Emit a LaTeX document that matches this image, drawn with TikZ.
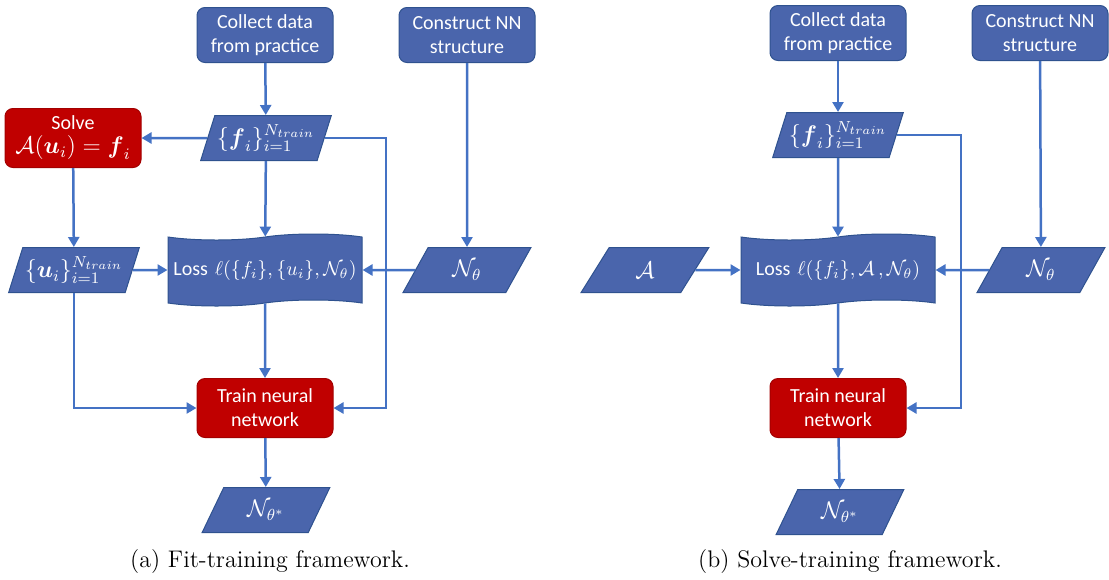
\documentclass[tikz,border=0pt]{standalone}
\usepackage{amsmath}
\usepackage{fontspec}
\newfontfamily\boxfont{Carlito}
\usetikzlibrary{arrows.meta,shapes.geometric,shapes.symbols}
\definecolor{boxblue}{HTML}{4A65AC}
\definecolor{boxedge}{HTML}{2F528F}
\definecolor{boxred}{HTML}{C00000}
\definecolor{linkblue}{HTML}{4472C4}

\begin{document}
\begin{tikzpicture}[x=0.5pt, y=-0.5pt, >={Triangle[length=5pt,width=5.5pt]},
  proc/.style={rectangle, rounded corners=4pt, draw=boxedge, fill=boxblue, text=white,
    font=\boxfont\fontsize{10}{12}\selectfont, align=center,
    minimum width=68pt, minimum height=27.5pt, inner sep=1pt, line width=0.5pt},
  solve/.style={proc, draw=boxred!85!black, fill=boxred, minimum height=29.5pt},
  io/.style={trapezium, trapezium left angle=66, trapezium right angle=114,
    trapezium stretches=true, draw=boxedge, fill=boxblue, text=white,
    font=\fontsize{11.5}{13}\selectfont,
    minimum width=64pt, minimum height=22.5pt, inner sep=1pt, line width=0.5pt},
  loss/.style={tape, tape bend top=in and out, tape bend bottom=in and out,
    tape bend height=3pt, draw=boxedge, fill=boxblue, text=white,
    font=\fontsize{10.2}{12}\selectfont,
    minimum width=97pt, minimum height=36pt, inner sep=1pt, line width=0.5pt},
  flow/.style={->, draw=linkblue, line width=1.25pt},
  caption/.style={font=\large}]

\useasboundingbox (0,0) rectangle (1109,579);

% (a) Fit-training
\node[proc] (a-collect) at (265,35) {Collect data\\from practice};
\node[proc] (a-construct) at (467,35) {Construct NN\\structure};
\node[io] (a-data) at (266,138) {$\{\boldsymbol{f}_i\}_{i=1}^{N_{train}}$};
\node[solve] (a-solve) at (73,138) {Solve\\\large$\mathcal{A}(\boldsymbol{u}_i)=\boldsymbol{f}_i$};
\node[io] (a-sol) at (74,270) {$\{\boldsymbol{u}_i\}_{i=1}^{N_{train}}$};
\node[loss] (a-loss) at (265,270) {{\boxfont\fontsize{10}{12}\selectfont Loss} $\ell(\{f_i\},\{u_i\},\mathcal{N}_\theta)$};
\node[io] (a-net) at (467,270) {$\mathcal{N}_\theta$};
\node[solve] (a-train) at (265,408) {Train neural\\network};
\node[io] (a-out) at (266,510) {$\mathcal{N}_{\theta^*}$};
\coordinate (a-turn) at (386,138);

\draw[flow] (a-collect) -- (a-data);
\draw[flow] (a-data) -- (a-solve);
\draw[flow] (a-data) -- (a-loss);
\draw[flow] (a-data.east) -- (a-turn) |- (a-train);
\draw[flow] (a-solve) -- (a-sol);
\draw[flow] (a-sol) -- (a-loss);
\draw[flow] (a-sol) |- (a-train);
\draw[flow] (a-construct) -- (a-net);
\draw[flow] (a-net) -- (a-loss);
\draw[flow] (a-loss) -- (a-train);
\draw[flow] (a-train) -- (a-out);

\node[caption] (a-cap) at (270,562) {(a) Fit-training framework.};

% (b) Solve-training
\node[proc] (b-collect) at (838,33) {Collect data\\from practice};
\node[proc] (b-construct) at (1040,33) {Construct NN\\structure};
\node[io] (b-data) at (838,135) {$\{\boldsymbol{f}_i\}_{i=1}^{N_{train}}$};
\node[io] (b-op) at (645,270) {$\mathcal{A}$};
\node[loss] (b-loss) at (838,270) {{\boxfont\fontsize{10}{12}\selectfont Loss} $\ell(\{f_i\},\mathcal{A}\,,\mathcal{N}_\theta)$};
\node[io] (b-net) at (1041,270) {$\mathcal{N}_\theta$};
\node[solve] (b-train) at (838,408) {Train neural\\network};
\node[io] (b-out) at (840,512) {$\mathcal{N}_{\theta^*}$};
\coordinate (b-turn) at (961,135);

\draw[flow] (b-collect) -- (b-data);
\draw[flow] (b-data) -- (b-loss);
\draw[flow] (b-data.east) -- (b-turn) |- (b-train);
\draw[flow] (b-op) -- (b-loss);
\draw[flow] (b-construct) -- (b-net);
\draw[flow] (b-net) -- (b-loss);
\draw[flow] (b-loss) -- (b-train);
\draw[flow] (b-train) -- (b-out);

\node[caption] (b-cap) at (850,562) {(b) Solve-training framework.};

\end{tikzpicture}
\end{document}
